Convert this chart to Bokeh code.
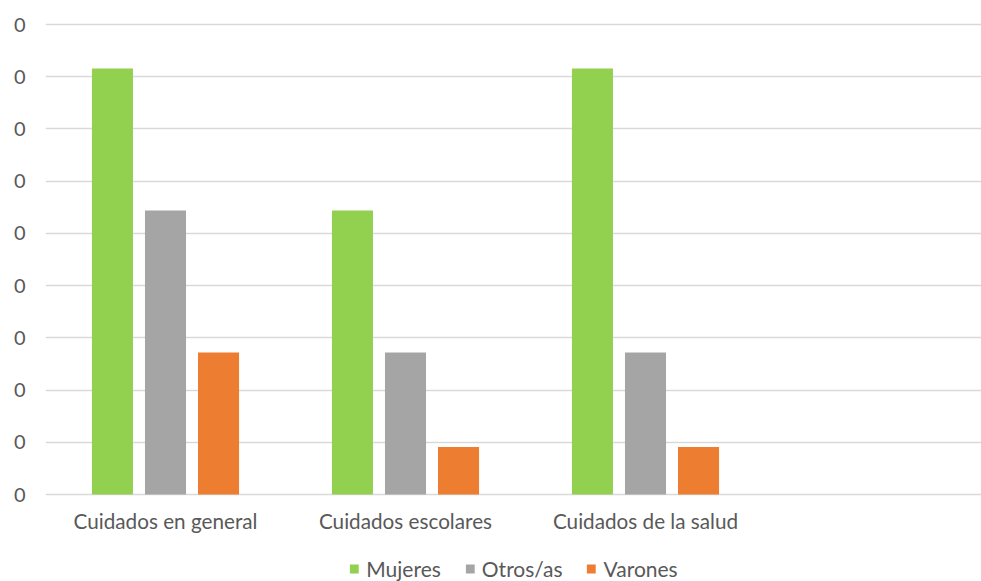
from bokeh.plotting import figure
from bokeh.models import Range1d, FixedTicker, Legend, LegendItem, LabelSet
from bokeh.core.properties import value
from bokeh.transform import dodge
from bokeh.models import ColumnDataSource
from bokeh.embed import file_html
from bokeh.resources import INLINE

# Chart data
categories = ["Cuidados en general", "Cuidados escolares", "Cuidados de la salud", ""]
mujeres = [0.0816, 0.0544, 0.0816, 0.0]
otros = [0.0544, 0.0272, 0.0272, 0.0]
varones = [0.0272, 0.0091, 0.0091, 0.0]
y_ticks = [0.00, 0.01, 0.02, 0.03, 0.04, 0.05, 0.06, 0.07, 0.08, 0.09]
y_tick_labels = ["0"] * len(y_ticks)

series_names = ["Mujeres", "Otros/as", "Varones"]
colors = ["#92D050", "#A5A5A5", "#ED7D31"]

pos = [i + 0.5 for i in range(len(categories))]
base = [0.0] * len(categories)
source = ColumnDataSource(dict(pos=pos, base=base, cat=categories,
                               mujeres=mujeres, otros=otros, varones=varones))

FONT = "Lato"
TEXT_COLOR = "#595959"

# The frame runs to the bottom edge; the space under the zero line holds
# the category labels and the legend.
p = figure(
    width=981, height=581,
    x_range=Range1d(0, 3.9), y_range=Range1d(-0.01666, 0.09077),
    x_axis_location=None,
    output_backend="svg", toolbar_location=None,
    min_border_left=45, min_border_right=0, min_border_top=20,
    min_border_bottom=0,
)
p.outline_line_color = None
p.background_fill_color = "white"
p.border_fill_color = "white"

bar_w = 0.171
offset = 0.221
fields = ["mujeres", "otros", "varones"]
renderers = []
for k, (field, col) in enumerate(zip(fields, colors)):
    r = p.vbar(x=dodge("pos", (k - 1) * offset), bottom="base", top=field, width=bar_w,
               source=source, fill_color=col, line_color=None)
    renderers.append(r)

# Value axis
p.yaxis.ticker = FixedTicker(ticks=y_ticks)
p.yaxis.major_label_overrides = {t: l for t, l in zip(y_ticks, y_tick_labels)}
p.yaxis.axis_line_color = None
p.yaxis.major_tick_line_color = None
p.yaxis.minor_tick_line_color = None
p.yaxis.major_label_text_font = FONT
p.yaxis.major_label_text_font_size = "20px"
p.yaxis.major_label_text_color = TEXT_COLOR
p.yaxis.major_label_standoff = 14

p.xgrid.grid_line_color = None
p.ygrid.grid_line_color = "#D9D9D9"
p.ygrid.grid_line_width = 1.5

# Category labels under the zero line
cat_labels = LabelSet(
    x="pos", y="base", text="cat", source=source, y_offset=-34,
    text_align="center", text_baseline="alphabetic",
    text_font=value(FONT), text_font_size=value("20.7px"), text_color=value(TEXT_COLOR),
)
p.add_layout(cat_labels)

legend = Legend(
    items=[LegendItem(label=n, renderers=[r]) for n, r in zip(series_names, renderers)],
    orientation="horizontal", location="bottom_center",
    label_text_font=FONT, label_text_font_size="21px", label_text_color=TEXT_COLOR,
    glyph_width=11, glyph_height=11, spacing=23, label_standoff=7,
    border_line_color=None, background_fill_alpha=0, padding=0, margin=0,
)
p.add_layout(legend, "center")

open("out.html", "w").write(file_html(p, INLINE))
